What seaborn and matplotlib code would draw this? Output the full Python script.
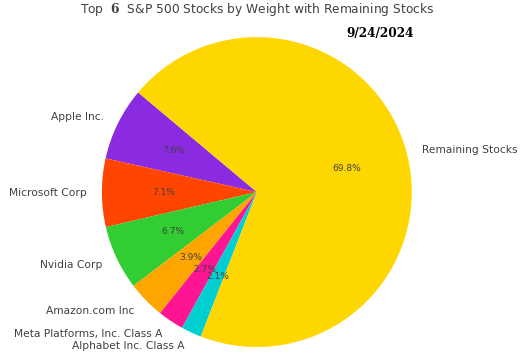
import matplotlib
matplotlib.use("Agg")
import matplotlib.pyplot as plt
import seaborn as sns

sns.set_style("white")
plt.rcParams['font.family'] = ['DejaVu Sans']
plt.rcParams['mathtext.fontset'] = 'dejavuserif'

# top 6 holdings + the rest (weights in %)
stocks = ["Apple Inc.", "Microsoft Corp", "Nvidia Corp", "Amazon.com Inc",
          "Meta Platforms, Inc. Class A", "Alphabet Inc. Class A", "Remaining Stocks"]
weights = [7.62, 7.12, 6.72, 3.92, 2.72, 2.12, 69.78]
colors = ["blueviolet", "orangered", "limegreen", "orange",
          "deeppink", "darkturquoise", "gold"]
top_n = 6
date_str = "9/24/2024"

fig = plt.figure(figsize=(5.22, 3.57), dpi=100)
ax = fig.add_axes([0.195, 0.028, 0.594, 0.868])

pal = sns.color_palette(colors)
wedges, texts, autotexts = ax.pie(weights, labels=stocks, colors=pal,
                                  autopct="%1.1f%%", startangle=140,
                                  wedgeprops={"linewidth": 0},
                                  textprops={"fontsize": 7.7, "color": "#404040"})
for t in autotexts:
    t.set_fontsize(6.5)
ax.set_xlim(-1, 1)
ax.set_ylim(-1, 1)
ax.set_aspect("equal")

fig.text(0.4923, 1 - 10 / 357, r"Top  $\mathbf{%d}$  S&P 500 Stocks by Weight with Remaining Stocks" % top_n,
         ha="center", va="center", fontsize=8.8, color="#404040")
fig.text(0.663, 1 - 33 / 357, date_str, ha="left", va="center", fontsize=8.7,
         fontweight="bold", family="DejaVu Serif", color="black")

fig.savefig("out.png", dpi=100)
